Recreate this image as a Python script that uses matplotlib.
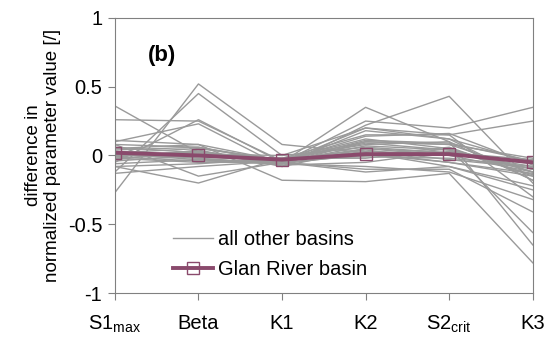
import matplotlib
matplotlib.use("Agg")
import matplotlib.pyplot as plt
import numpy as np

plt.rcParams['font.family'] = ['Liberation Sans', 'DejaVu Sans']

params = ['S1$_{\\mathregular{max}}$', 'Beta', 'K1', 'K2', 'S2$_{\\mathregular{crit}}$', 'K3']

# differences in normalized parameter values, one row per basin
other_basins = [
    [0.36, 0.02, -0.06, 0.10, 0.08, -0.12],
    [0.26, 0.25, -0.04, 0.05, 0.02, -0.08],
    [-0.27, 0.52, 0.08, 0.02, -0.05, -0.15],
    [-0.12, 0.45, 0.00, 0.20, 0.15, -0.30],
    [-0.05, 0.26, -0.05, 0.35, 0.10, -0.65],
    [0.10, 0.23, -0.08, 0.22, 0.43, -0.20],
    [0.08, -0.15, -0.05, 0.25, 0.20, 0.35],
    [-0.08, -0.20, -0.02, 0.15, 0.15, 0.25],
    [0.05, 0.08, -0.18, -0.19, -0.13, -0.78],
    [0.02, 0.05, -0.03, 0.12, 0.05, -0.56],
    [-0.02, -0.05, -0.05, -0.10, -0.10, -0.41],
    [0.00, 0.03, -0.06, 0.18, 0.12, -0.05],
    [-0.04, 0.00, -0.02, 0.08, 0.10, -0.18],
    [0.03, -0.02, -0.07, -0.05, 0.03, -0.10],
    [-0.13, -0.08, -0.04, 0.02, -0.08, -0.22],
    [0.06, 0.02, -0.03, 0.10, 0.08, -0.02],
    [-0.03, 0.04, -0.08, 0.05, 0.00, -0.12],
    [0.01, -0.03, -0.06, -0.08, -0.12, -0.32],
    [0.04, 0.06, -0.04, 0.14, 0.16, -0.07],
    [-0.06, -0.03, -0.05, 0.00, 0.06, -0.15],
    [0.02, 0.01, 0.00, 0.06, 0.02, -0.03],
    [-0.01, -0.04, -0.05, -0.12, -0.08, -0.25],
    [0.00, 0.02, -0.03, 0.04, -0.03, -0.09],
    [0.08, 0.06, -0.05, 0.20, 0.12, -0.18],
    [-0.08, -0.06, -0.02, -0.02, 0.05, -0.12],
    [0.11, 0.08, -0.04, 0.09, 0.04, -0.14],
    [0.01, -0.01, -0.04, 0.03, 0.01, -0.06],
    [-0.02, 0.01, -0.05, 0.07, 0.04, -0.10],
    [0.03, 0.00, -0.02, -0.01, -0.02, -0.08],
    [-0.01, 0.03, -0.04, 0.11, 0.09, -0.04],
    [0.02, -0.02, -0.06, 0.01, -0.05, -0.13],
]
glan = [0.02, 0.00, -0.03, 0.01, 0.01, -0.05]

x = np.arange(len(params))
gray = '#9a9a9a'
glan_color = '#8a4a6c'

fig = plt.figure(figsize=(5.47, 3.44), dpi=100)
ax = fig.add_axes([0.210, 0.148, 0.764, 0.800])

for i, row in enumerate(other_basins):
    ax.plot(x, row, color=gray, linewidth=1.0,
            label='all other basins' if i == 0 else None)
ax.plot(x, glan, color=glan_color, linewidth=2.8, marker='s', markersize=8,
        markerfacecolor='none', markeredgecolor=glan_color, markeredgewidth=1.0,
        label='Glan River basin')

ax.set_xlim(0, 5)
ax.set_ylim(-1, 1)
ax.set_xticks(x)
ax.set_xticklabels(params, fontsize=14.5)
ax.set_yticks([-1, -0.5, 0, 0.5, 1])
ax.set_yticklabels(['-1', '-0.5', '0', '0.5', '1'], fontsize=14.5)
ax.tick_params(axis='both', direction='out', length=5, color='#808080')
ax.tick_params(axis='x', pad=10)
ax.tick_params(axis='y', pad=4)
for s in ax.spines.values():
    s.set_color('#808080')
ax.set_ylabel('difference in\nnormalized parameter value [/]', fontsize=13.5,
              labelpad=5, linespacing=1.15)
ax.text(0.08, 0.845, '(b)', transform=ax.transAxes, fontsize=16, fontweight='bold')
ax.legend(loc='lower left', bbox_to_anchor=(0.105, 0.0), frameon=False,
          fontsize=14.5, handlelength=2.0, handletextpad=0.25, labelspacing=0.55,
          borderaxespad=0.3)

fig.savefig('out.png', dpi=100)
